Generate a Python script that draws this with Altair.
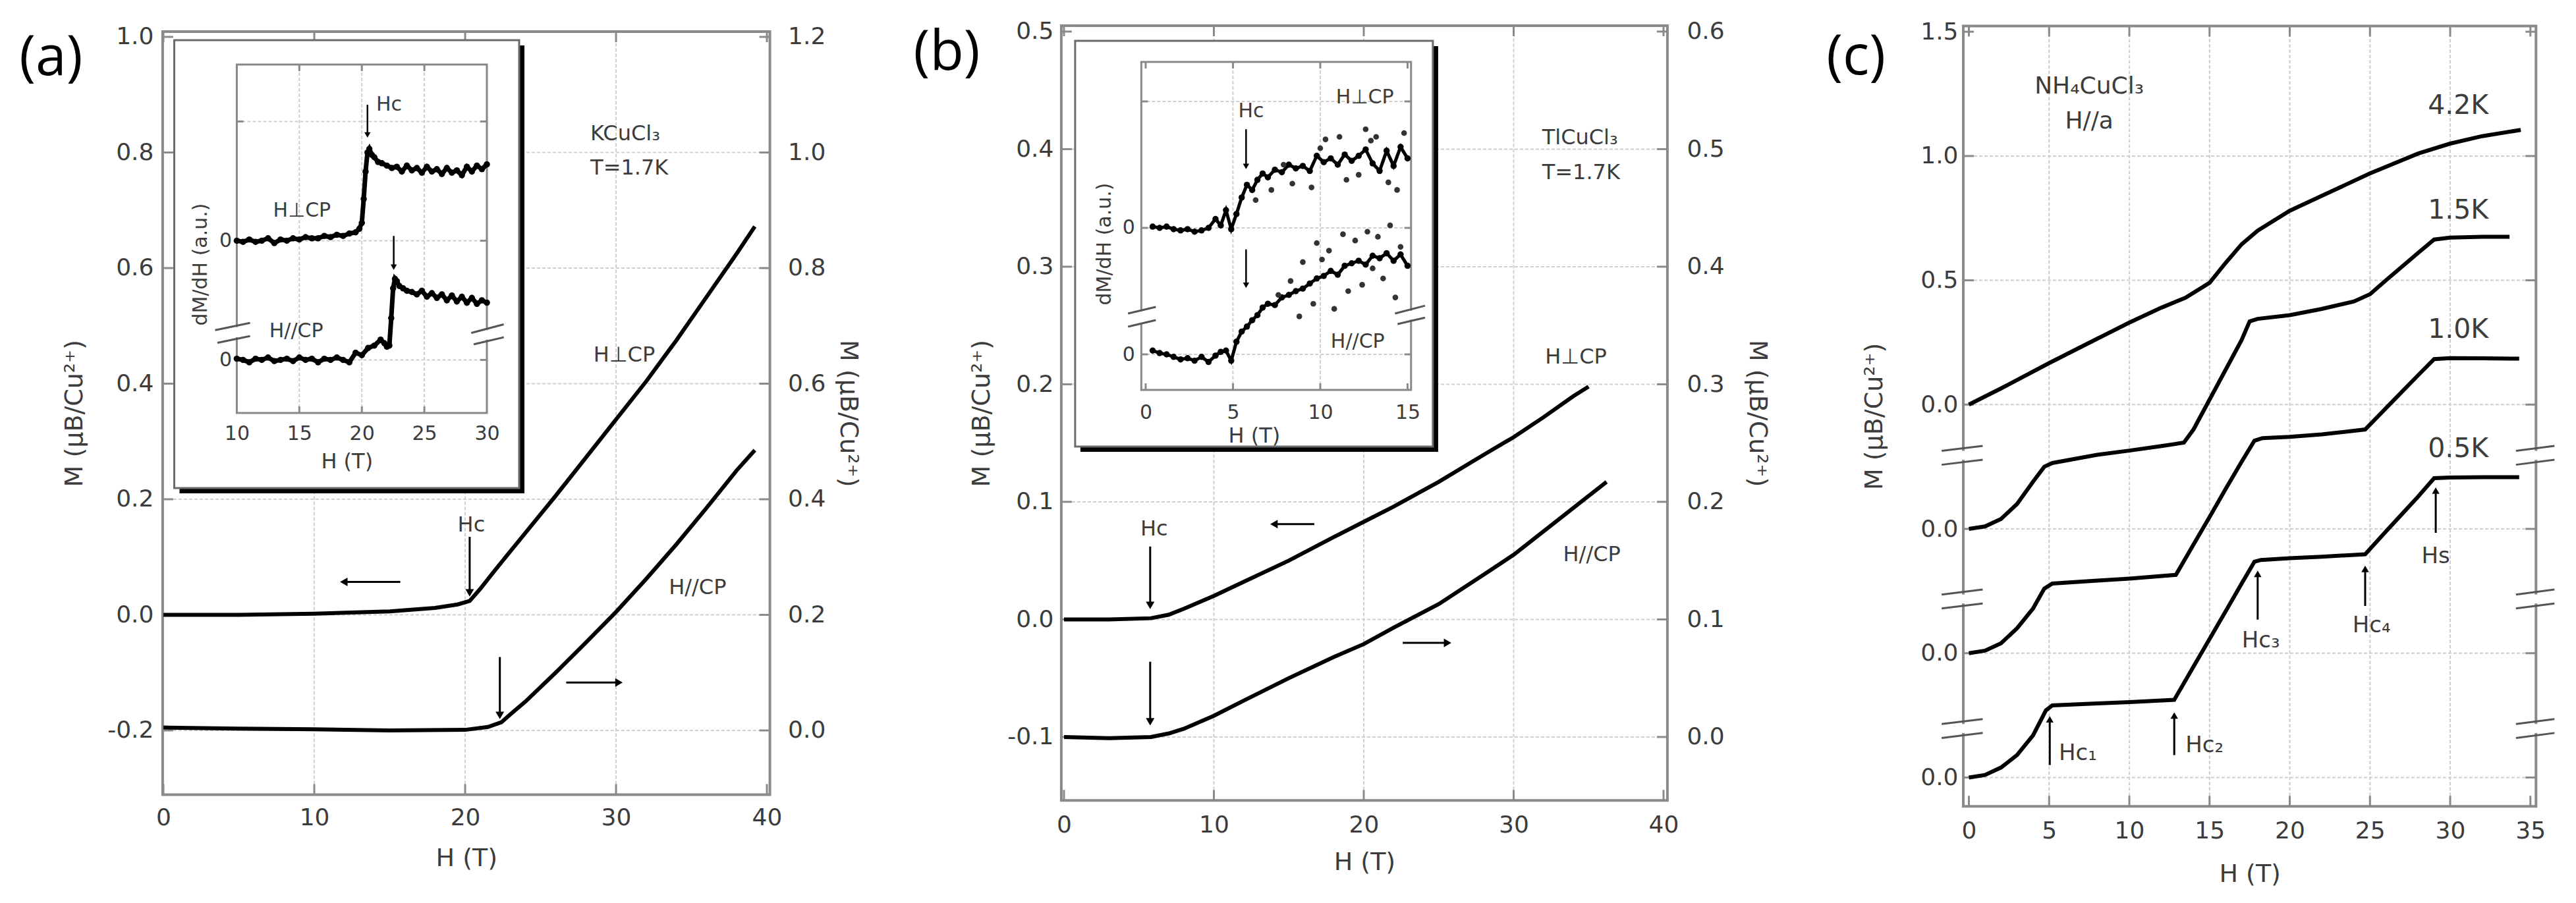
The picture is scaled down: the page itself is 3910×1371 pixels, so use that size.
import altair as alt
import pandas as pd

CW, CH = 3894, 1355
FONT = "DejaVu Sans"
TXT = "#3c3c3c"
GRID = "#cfcfcf"
FRAME = "#8a8a8a"

# ---------------- panel (a): KCuCl3, T = 1.7 K ----------------
a_perp_H = [0, 5, 10, 15, 18, 19.5, 20.3, 21, 22, 24, 26, 28, 30, 32, 34, 36, 38, 39.2]
a_perp_M = [0.0, 0.0, 0.002, 0.006, 0.012, 0.018, 0.024, 0.045, 0.078, 0.142, 0.206, 0.272,
            0.338, 0.404, 0.475, 0.55, 0.625, 0.672]
a_par_H = [0, 5, 10, 15, 20, 21.5, 22.4, 23, 24, 26, 28, 30, 32, 34, 36, 38, 39.2]
a_par_M = [0.005, 0.003, 0.002, 0.0, 0.001, 0.006, 0.014, 0.028, 0.05, 0.10, 0.152, 0.205,
           0.262, 0.322, 0.385, 0.45, 0.485]
# inset (a): dM/dH (a.u.)
ai_perp_H = [10, 10.5, 11, 11.5, 12, 12.5, 13, 13.5, 14, 14.5, 15, 15.5, 16, 16.5, 17, 17.5, 18,
             18.5, 19, 19.5, 19.8, 20.0, 20.15, 20.3, 20.45, 20.6, 20.8, 21.0, 21.3, 21.6, 22.0,
             22.4, 22.8, 23.2, 23.6, 24.0, 24.4, 24.8, 25.2, 25.6, 26.0, 26.4, 26.8, 27.2, 27.6,
             28.0, 28.4, 28.8, 29.2, 29.6, 30.0]
ai_perp_D = [1.00, 0.99, 1.01, 0.99, 1.00, 1.02, 0.98, 1.01, 1.00, 1.02, 1.01, 1.03, 1.02, 1.02,
             1.04, 1.03, 1.05, 1.04, 1.06, 1.07, 1.10, 1.15, 1.35, 1.58, 1.74, 1.77, 1.72, 1.70,
             1.66, 1.65, 1.63, 1.61, 1.62, 1.58, 1.63, 1.59, 1.61, 1.57, 1.62, 1.58, 1.60, 1.56,
             1.61, 1.57, 1.59, 1.55, 1.62, 1.58, 1.63, 1.60, 1.64]
ai_par_H = [10, 10.5, 11, 11.5, 12, 12.5, 13, 13.5, 14, 14.5, 15, 15.5, 16, 16.5, 17, 17.5, 18,
            18.5, 19, 19.5, 20, 20.5, 21, 21.5, 21.8, 22.0, 22.2, 22.35, 22.5, 22.65, 22.8, 23.0,
            23.3, 23.6, 24.0, 24.4, 24.8, 25.2, 25.6, 26.0, 26.4, 26.8, 27.2, 27.6, 28.0, 28.4,
            28.8, 29.2, 29.6, 30.0]
ai_par_D = [0.01, 0.00, -0.02, 0.01, 0.00, 0.02, -0.01, 0.00, 0.01, -0.01, 0.02, 0.00, 0.01,
            -0.02, 0.01, 0.00, 0.02, 0.00, -0.02, 0.06, 0.04, 0.10, 0.12, 0.17, 0.14, 0.11, 0.12,
            0.35, 0.60, 0.68, 0.66, 0.62, 0.60, 0.58, 0.57, 0.55, 0.58, 0.53, 0.56, 0.52, 0.55,
            0.50, 0.54, 0.49, 0.53, 0.48, 0.52, 0.47, 0.50, 0.48]

# ---------------- panel (b): TlCuCl3, T = 1.7 K ----------------
b_perp_H = [0, 3, 5.8, 7, 8, 10, 12, 15, 18, 20, 22, 25, 28, 30, 32, 34, 35]
b_perp_M = [0.0, 0.0, 0.001, 0.004, 0.009, 0.02, 0.032, 0.05, 0.07, 0.083, 0.096, 0.117, 0.14,
            0.155, 0.172, 0.19, 0.198]
b_par_H = [0, 3, 5.8, 7, 8, 10, 12, 15, 18, 20, 22, 25, 28, 30, 32, 34, 36.2]
b_par_M = [0.0, -0.001, 0.0, 0.003, 0.007, 0.018, 0.031, 0.05, 0.068, 0.079, 0.093, 0.113, 0.138,
           0.155, 0.175, 0.195, 0.217]
# inset (b)
bi_H = [0.4, 0.8, 1.2, 1.6, 2.0, 2.4, 2.8, 3.2, 3.6, 4.0, 4.3, 4.6, 4.9, 5.2, 5.5, 5.8, 6.1, 6.4,
        6.7, 7.0, 7.4, 7.8, 8.2, 8.6, 9.0, 9.4, 9.8, 10.2, 10.6, 11.0, 11.4, 11.8, 12.2, 12.6,
        13.0, 13.4, 13.8, 14.2, 14.6, 15.0]
bi_perp_D = [1.01, 1.00, 1.01, 0.99, 0.98, 0.99, 0.97, 0.98, 1.00, 1.07, 1.02, 1.14, 0.99, 1.11,
             1.24, 1.34, 1.30, 1.38, 1.43, 1.40, 1.46, 1.44, 1.50, 1.47, 1.49, 1.45, 1.57, 1.52,
             1.55, 1.50, 1.58, 1.53, 1.57, 1.62, 1.51, 1.45, 1.61, 1.49, 1.64, 1.55]
bi_par_D = [0.03, 0.01, 0.00, -0.02, -0.04, -0.03, -0.05, -0.02, -0.06, -0.01, 0.02, 0.03, -0.05,
            0.10, 0.18, 0.22, 0.27, 0.31, 0.37, 0.40, 0.39, 0.45, 0.47, 0.50, 0.52, 0.56, 0.60,
            0.62, 0.66, 0.63, 0.70, 0.72, 0.74, 0.71, 0.78, 0.76, 0.80, 0.74, 0.79, 0.70]
bi_perp_xH = [10.3, 11.1, 12.6, 13.2, 13.9, 14.4, 9.5, 8.4, 11.5, 12.9, 14.8, 7.2, 10.0, 6.3,
              7.9, 12.2]
bi_perp_xD = [1.70, 1.72, 1.78, 1.72, 1.36, 1.30, 1.32, 1.35, 1.38, 1.69, 1.75, 1.30, 1.63, 1.22,
              1.50, 1.42]
bi_par_xH = [9.0, 9.8, 10.5, 11.3, 12.0, 12.7, 13.3, 14.0, 14.6, 10.8, 9.6, 8.8, 12.4, 13.6,
             14.3, 11.6, 10.1, 7.6, 8.3, 13.0]
bi_par_xD = [0.73, 0.88, 0.82, 0.95, 0.90, 0.97, 0.93, 1.02, 0.85, 0.36, 0.40, 0.30, 0.55, 0.60,
             0.45, 0.50, 0.75, 0.47, 0.58, 0.68]

# ---------------- panel (c): NH4CuCl3, H//a ----------------
c_H_05 = [0, 1, 2, 3, 4, 4.8, 5.2, 8, 10, 12.8, 14, 15, 16, 17, 17.8, 18.2, 20, 22, 24.7, 26, 27,
          28, 29, 30, 32, 34.3]
c_M_05 = [0, 0.01, 0.04, 0.09, 0.17, 0.27, 0.29, 0.298, 0.303, 0.3125, 0.446, 0.557, 0.668, 0.78,
          0.868, 0.875, 0.882, 0.888, 0.898, 0.99, 1.06, 1.13, 1.204, 1.207, 1.208, 1.208]
c_H_10 = [0, 1, 2, 3, 4, 4.7, 5.2, 8, 10, 12.9, 14, 15, 16, 17, 17.8, 18.3, 20, 22, 24.7, 26, 27,
          28, 29, 30, 32, 34.3]
c_M_10 = [0, 0.01, 0.04, 0.1, 0.18, 0.26, 0.28, 0.292, 0.3, 0.315, 0.437, 0.548, 0.66, 0.77,
          0.855, 0.865, 0.87, 0.88, 0.90, 0.986, 1.052, 1.118, 1.183, 1.187, 1.186, 1.185]
c_H_15 = [0, 1, 2, 3, 4, 4.7, 5.2, 8, 10, 12, 13.4, 14, 15, 16, 17, 17.5, 18, 20, 22, 24, 25, 26,
          27, 28, 29, 30, 32, 33.7]
c_M_15 = [0, 0.01, 0.04, 0.1, 0.19, 0.25, 0.265, 0.298, 0.315, 0.333, 0.347, 0.40, 0.52, 0.64,
          0.76, 0.835, 0.845, 0.86, 0.885, 0.915, 0.944, 1.0, 1.055, 1.11, 1.164, 1.172, 1.175,
          1.175]
c_H_42 = [0, 2, 5, 8, 10, 12, 13.5, 15, 16, 17, 18, 20, 22, 25, 28, 30, 32, 34.4]
c_M_42 = [0, 0.065, 0.167, 0.265, 0.33, 0.39, 0.43, 0.49, 0.57, 0.645, 0.70, 0.78, 0.84, 0.93,
          1.01, 1.05, 1.08, 1.105]
c_offsets = {"0.5K": 0.0, "1.0K": 0.5, "1.5K": 1.0, "4.2K": 1.5}


# ---------------- helpers ----------------
def ax(orient, offset, values, title, lpad, tpad, lsize=36, tsize=38, z=0, expr=None, fmt=None):
    kw = dict(orient=orient, offset=offset, values=values, title=title, grid=False, ticks=False,
              tickSize=0, domain=False, labelFont=FONT, labelFontSize=lsize, labelColor=TXT,
              titleFont=FONT, titleFontSize=tsize, titleColor=TXT, titleFontWeight="normal",
              labelPadding=lpad, titlePadding=tpad, labelFlush=False, labelOverlap=False,
              labelBound=False, zindex=z)
    if expr:
        kw["labelExpr"] = expr
    if fmt:
        kw["format"] = fmt
    return alt.Axis(**kw)


class Fr:
    """A coordinate frame: x/y scales (with pixel ranges) and the axes that belong to them."""

    def __init__(s, xd, xr, yd, yr, xa=None, ya=None):
        s.xd, s.xr, s.yd, s.yr = xd, xr, yd, yr
        s.xs = alt.Scale(domain=list(xd), range=list(xr), nice=False, zero=False)
        s.ys = alt.Scale(domain=list(yd), range=list(yr), nice=False, zero=False)
        s.xa, s.ya = xa, ya

    def dx(s, px):
        return px * (s.xd[1] - s.xd[0]) / abs(s.xr[1] - s.xr[0])

    def dy(s, px):
        return px * (s.yd[1] - s.yd[0]) / abs(s.yr[1] - s.yr[0])


def XY(fr):
    return dict(x=alt.X("x:Q", scale=fr.xs, axis=fr.xa), y=alt.Y("y:Q", scale=fr.ys, axis=fr.ya))


def segs(fr, rows, color, width, dash=None):
    d = pd.DataFrame(rows, columns=["x", "y", "x2", "y2"])
    m = dict(color=color, strokeWidth=width)
    if dash:
        m["strokeDash"] = dash
    return alt.Chart(d).mark_rule(**m).encode(**XY(fr), x2="x2:Q", y2="y2:Q")


def rects(fr, rows, **m):
    d = pd.DataFrame(rows, columns=["x", "x2", "y", "y2"])
    return alt.Chart(d).mark_rect(**m).encode(**XY(fr), x2="x2:Q", y2="y2:Q")


def curve(fr, xv, yv, **m):
    d = pd.DataFrame({"x": xv, "y": yv})
    return alt.Chart(d).mark_line(**m).encode(**XY(fr))


def dots(fr, xv, yv, **m):
    d = pd.DataFrame({"x": xv, "y": yv})
    return alt.Chart(d).mark_circle(opacity=1, **m).encode(**XY(fr))


def texts(fr, rows, size, align="left", color=TXT, font=FONT, **m):
    d = pd.DataFrame(rows, columns=["t", "x", "y"])
    return alt.Chart(d).mark_text(align=align, baseline="middle", font=font, fontSize=size,
                                  color=color, **m).encode(**XY(fr), text="t:N")


def heads(fr, rows, shape, size, color="black"):
    d = pd.DataFrame(rows, columns=["x", "y"])
    return alt.Chart(d).mark_point(shape=shape, filled=True, size=size, color=color, opacity=1,
                                   strokeWidth=0).encode(**XY(fr))


def v_arrows(fr, rows, hp=14, size=170, width=3, color="black"):
    out = []
    for x, a, b in rows:
        up = b > a
        c = b - fr.dy(hp / 2) if up else b + fr.dy(hp / 2)
        out.append(segs(fr, [(x, a, x, c)], color, width))
        out.append(heads(fr, [(x, c)], "triangle-up" if up else "triangle-down", size, color))
    return out


def h_arrows(fr, rows, hp=14, size=170, width=3, color="black"):
    out = []
    for y, a, b in rows:
        right = b > a
        c = b - fr.dx(hp / 2) if right else b + fr.dx(hp / 2)
        out.append(segs(fr, [(a, y, c, y)], color, width))
        out.append(heads(fr, [(c, y)], "triangle-right" if right else "triangle-left", size, color))
    return out


def grid(fr, xv, yv, x0, x1, y0, y1, color=GRID, width=2, dash=(5, 3)):
    rows = [(v, y0, v, y1) for v in xv] + [(x0, v, x1, v) for v in yv]
    return segs(fr, rows, color, width, list(dash))


def frame_ticks(fr, xv, yv, x0, x1, y0, y1, px=16, color=FRAME, width=3):
    lx, ly = fr.dx(px), fr.dy(px)
    rows = [(x0, v, x0 + lx, v) for v in yv] + [(x1 - lx, v, x1, v) for v in yv]
    rows += [(v, y0, v, y0 + ly) for v in xv] + [(v, y1 - ly, v, y1) for v in xv]
    return segs(fr, rows, color, width)


def inset_box(fr, x0, x1, y0, y1, sx, sy):
    return [
        rects(fr, [(x0 + sx, x1 + sx, y0 - sy, y1 - sy)], color="black"),
        rects(fr, [(x0, x1, y0, y1)], fill="white", stroke="#6a6a6a", strokeWidth=3),
    ]


def breaks(fr, lines, gaps, width=3):
    return [rects(fr, gaps, fill="white", strokeWidth=0), segs(fr, lines, "#555555", width)]


NEG1 = "datum.value < 0 ? '-' + format(-datum.value, '.1f') : format(datum.value, '.1f')"
MTITLE = "M (μB/Cu²⁺)"

# ======================= panel (a) =======================
a_yv = [-0.2, 0.0, 0.2, 0.4, 0.6, 0.8, 1.0]
AX0, AX1, AY0, AY1 = -0.05, 40.2, -0.311, 1.009
FA = Fr((AX0, AX1), (238.9, 1160.6), (AY0, AY1), (1198.4, 40.1),
        ax("bottom", -156.6, [0, 10, 20, 30, 40], "H (T)", 18, 25, fmt="d"),
        ax("left", -238.9, a_yv, MTITLE, 14, 30, expr=NEG1))
FA2 = Fr((AX0, AX1), (238.9, 1160.6), (AY0 + 0.2, AY1 + 0.2), (1198.4, 40.1), None,
         ax("right", -2733.4, [0.0, 0.2, 0.4, 0.6, 0.8, 1.0, 1.2], MTITLE, 27, 15, fmt=".1f"))
FAI = Fr((5.0, 32.58), (256.5, 780), (-1.075, 2.682), (733, 53),
         ax("bottom", -736, [10, 15, 20, 25, 30], "H (T)", 16, 12, lsize=30, tsize=32, z=1,
            fmt="d"),
         ax("left", -351.5, [0, 1], "dM/dH (a.u.)", 8, 13, lsize=30, tsize=30, z=1,
            expr="'0'"))

setA = alt.layer(
    grid(FA, [10, 20, 30], [-0.2, 0.0, 0.2, 0.4, 0.6, 0.8], AX0, AX1, AY0, AY1),
    rects(FA, [(AX0, AX1, AY0, AY1)], fillOpacity=0, stroke=FRAME, strokeWidth=4),
    frame_ticks(FA, [0, 10, 20, 30, 40], a_yv, AX0, AX1, AY0, AY1),
    curve(FA, a_perp_H, a_perp_M, color="black", strokeWidth=6),
    *v_arrows(FA, [(20.3, 0.135, 0.03), (22.3, -0.073, -0.182)]),
    *h_arrows(FA, [(0.057, 15.7, 11.65), (-0.117, 26.7, 30.5)]),
    texts(FA, [("KCuCl₃", 28.3, 0.833), ("T=1.7K", 28.3, 0.773), ("H⊥CP", 28.5, 0.45),
               ("H//CP", 33.5, 0.047), ("Hᴄ", 19.5, 0.156)], 32),
    texts(FA, [("(a)", -7.45, 0.962)], 84, align="center", color="black", font="Open Sans"),
)
setA2 = alt.layer(curve(FA2, a_par_H, a_par_M, color="black", strokeWidth=6))
setAI = alt.layer(
    *inset_box(FAI, 5.0, 32.58, -1.075, 2.682, FAI.dx(8), FAI.dy(8)),
    grid(FAI, [15, 20, 25], [0, 1, 2], 10, 30, -0.445, 2.478, width=2),
    rects(FAI, [(10, 30, -0.445, 2.478)], fillOpacity=0, stroke="#888888", strokeWidth=3),
    frame_ticks(FAI, [15, 20, 25], [0, 1, 2], 10, 30, -0.445, 2.478, px=10),
    *breaks(FAI, [(8.27, 0.25, 11.06, 0.31), (8.45, 0.143, 11.06, 0.20),
                  (28.75, 0.226, 31.35, 0.298), (28.95, 0.131, 31.35, 0.19)],
            [(9.7, 10.3, 0.19, 0.275), (29.7, 30.3, 0.17, 0.25)]),
    curve(FAI, ai_perp_H, ai_perp_D, color="black", strokeWidth=7),
    dots(FAI, ai_perp_H, ai_perp_D, color="black", size=90),
    curve(FAI, ai_par_H, ai_par_D, color="black", strokeWidth=7),
    dots(FAI, ai_par_H, ai_par_D, color="black", size=90),
    *v_arrows(FAI, [(20.45, 2.14, 1.86), (22.55, 1.04, 0.75)], hp=10, size=90, width=2.5),
    texts(FAI, [("Hᴄ", 21.15, 2.14), ("H⊥CP", 12.9, 1.25), ("H//CP", 12.6, 0.24)], 30),
)

# ======================= panel (b) =======================
b_yv = [-0.1, 0.0, 0.1, 0.2, 0.3, 0.4, 0.5]
BX0, BX1, BY0, BY1 = -0.18, 40.26, -0.154, 0.505
FB = Fr((BX0, BX1), (1602.9, 2522.9), (BY0, BY1), (1207.3, 31),
        ax("bottom", -147.7, [0, 10, 20, 30, 40], "H (T)", 20, 20, fmt="d"),
        ax("left", -1602.9, b_yv, MTITLE, 12, 19, expr=NEG1))
FB2 = Fr((BX0, BX1), (1602.9, 2522.9), (BY0 + 0.1, BY1 + 0.1), (1207.3, 31), None,
         ax("right", -1371.1, [0.0, 0.1, 0.2, 0.3, 0.4, 0.5, 0.6], MTITLE, 29, 30, fmt=".1f"))
FBI = Fr((-4.04, 16.45), (1623.9, 2166.9), (-0.729, 2.479), (670, 54),
         ax("bottom", -771, [0, 5, 10, 15], "H (T)", 19, 5, lsize=30, tsize=32, z=1, fmt="d"),
         ax("left", -1724.4, [0, 1], "dM/dH (a.u.)", 10, 12, lsize=30, tsize=30, z=1,
            expr="'0'"))

setB = alt.layer(
    grid(FB, [10, 20, 30], [-0.1, 0.0, 0.1, 0.2, 0.3, 0.4], BX0, BX1, BY0, BY1),
    rects(FB, [(BX0, BX1, BY0, BY1)], fillOpacity=0, stroke=FRAME, strokeWidth=4),
    frame_ticks(FB, [0, 10, 20, 30, 40], b_yv, BX0, BX1, BY0, BY1),
    curve(FB, b_perp_H, b_perp_M, color="black", strokeWidth=6),
    *v_arrows(FB, [(5.75, 0.062, 0.008), (5.75, -0.036, -0.091)]),
    *h_arrows(FB, [(0.081, 16.7, 13.7), (-0.02, 22.6, 25.9)]),
    texts(FB, [("TlCuCl₃", 31.9, 0.41), ("T=1.7K", 31.9, 0.38), ("H⊥CP", 32.1, 0.223),
               ("H//CP", 33.3, 0.055), ("Hᴄ", 5.1, 0.077)], 32),
    texts(FB, [("(b)", -7.82, 0.4815)], 84, align="center", color="black", font="Open Sans"),
)
setB2 = alt.layer(curve(FB2, b_par_H, b_par_M, color="black", strokeWidth=6))
setBI = alt.layer(
    *inset_box(FBI, -4.04, 16.45, -0.729, 2.479, FBI.dx(8), FBI.dy(8)),
    grid(FBI, [5, 10], [0, 1, 2], -0.25, 15.2, -0.281, 2.3125, width=2),
    rects(FBI, [(-0.25, 15.2, -0.281, 2.3125)], fillOpacity=0, stroke="#888888", strokeWidth=3),
    frame_ticks(FBI, [0, 5, 10, 15], [0, 1, 2], -0.25, 15.2, -0.281, 2.3125, px=10),
    *breaks(FBI, [(-1.01, 0.323, 0.58, 0.375), (-1.01, 0.219, 0.58, 0.271),
                  (14.28, 0.323, 16.0, 0.385), (14.43, 0.24, 16.0, 0.29)],
            [(-0.5, 0.0, 0.25, 0.34), (14.93, 15.47, 0.275, 0.345)]),
    curve(FBI, bi_H, bi_perp_D, color="black", strokeWidth=5),
    dots(FBI, bi_H, bi_perp_D, color="black", size=90),
    dots(FBI, bi_perp_xH, bi_perp_xD, color="#333333", size=75),
    curve(FBI, bi_H, bi_par_D, color="black", strokeWidth=5),
    dots(FBI, bi_H, bi_par_D, color="black", size=90),
    dots(FBI, bi_par_xH, bi_par_xD, color="#333333", size=75),
    *v_arrows(FBI, [(5.75, 1.78, 1.46), (5.75, 0.83, 0.52)], hp=10, size=90, width=2.5),
    texts(FBI, [("Hᴄ", 5.3, 1.92), ("H⊥CP", 10.9, 2.03), ("H//CP", 10.6, 0.10)], 30),
)

# ======================= panel (c) =======================
c_yv = [0.0, 0.5, 1.0, 1.5, 2.0, 2.5, 3.0]
c_xv = [0, 5, 10, 15, 20, 25, 30, 35]
C_EXPR = "datum.value <= 1.5 ? '0.0' : format(datum.value - 1.5, '.1f')"
CX0, CX1, CY0, CY1 = -0.35, 35.35, -0.116, 3.023
FC = Fr((CX0, CX1), (2972, 3841.3), (CY0, CY1), (1216.2, 31.5),
        ax("bottom", -138.8, c_xv, "H (T)", 20, 29, fmt="d"),
        ax("left", -2972, c_yv, MTITLE, 8, 50, expr=C_EXPR))


def shifted(ms, off):
    return [m + off for m in ms]


c_break_rows = []
c_gap_rows = []
for yc in [1.296, 0.718, 0.197]:
    for xa_, xb_, xf in [(-1.7, 0.86, CX0), (34.1, 36.5, CX1)]:
        c_break_rows.append((xa_, yc + 0.018, xb_, yc + 0.038))
        c_break_rows.append((xa_, yc - 0.038, xb_, yc - 0.018))
        c_gap_rows.append((xf - 0.25, xf + 0.25, yc - 0.018, yc + 0.018))

setC = alt.layer(
    grid(FC, [5, 10, 15, 20, 25, 30], [0.0, 0.5, 1.0, 1.5, 2.0, 2.5], CX0, CX1, CY0, CY1),
    rects(FC, [(CX0, CX1, CY0, CY1)], fillOpacity=0, stroke=FRAME, strokeWidth=4),
    frame_ticks(FC, c_xv, c_yv, CX0, CX1, CY0, CY1),
    *breaks(FC, c_break_rows, c_gap_rows),
    curve(FC, c_H_05, shifted(c_M_05, c_offsets["0.5K"]), color="black", strokeWidth=6),
    curve(FC, c_H_10, shifted(c_M_10, c_offsets["1.0K"]), color="black", strokeWidth=6),
    curve(FC, c_H_15, shifted(c_M_15, c_offsets["1.5K"]), color="black", strokeWidth=6),
    curve(FC, c_H_42, shifted(c_M_42, c_offsets["4.2K"]), color="black", strokeWidth=6),
    *v_arrows(FC, [(5.04, 0.05, 0.25), (12.8, 0.09, 0.265), (18.0, 0.635, 0.835),
                   (24.7, 0.69, 0.855), (29.1, 0.984, 1.17)], hp=12, size=130),
    texts(FC, [("Hᴄ₁", 5.6, 0.097), ("Hᴄ₂", 13.5, 0.127)], 34),
    texts(FC, [("Hᴄ₃", 18.2, 0.55), ("Hᴄ₄", 25.1, 0.61), ("Hꜱ", 29.1, 0.89)], 34,
          align="center"),
    texts(FC, [("4.2K", 30.5, 2.70), ("1.5K", 30.5, 2.28), ("1.0K", 30.5, 1.80),
               ("0.5K", 30.5, 1.32)], 41, align="center"),
    texts(FC, [("NH₄CuCl₃", 7.5, 2.78), ("H//a", 7.5, 2.64)], 36, align="center"),
    texts(FC, [("(c)", -7.04, 2.895)], 84, align="center", color="black", font="Open Sans"),
)

chart = (
    alt.layer(setA, setA2, setAI, setB, setB2, setBI, setC)
    .resolve_scale(x="independent", y="independent")
    .properties(width=CW, height=CH, padding=0, background="white",
                autosize=alt.AutoSizeParams(type="none"))
    .configure_view(strokeWidth=0)
)

chart.save("out.html", embed_options={"renderer": "svg", "actions": False})
